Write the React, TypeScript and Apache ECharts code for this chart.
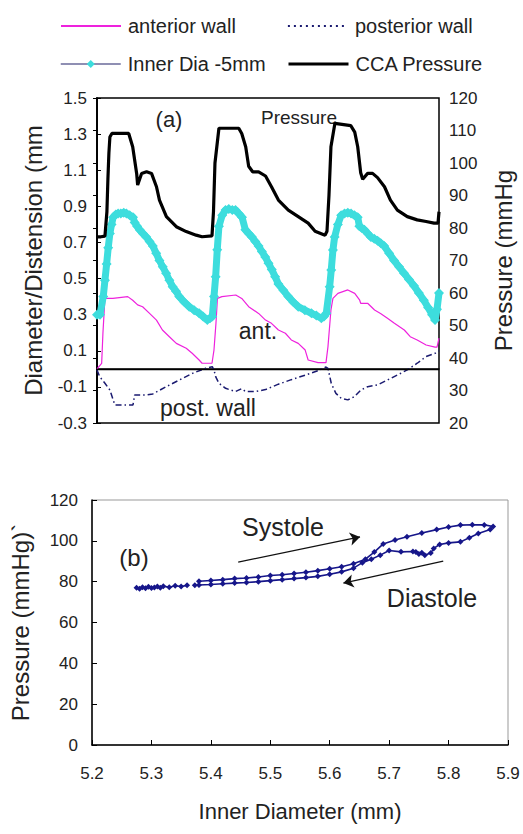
import React, { useEffect, useRef } from "react";
import * as echarts from "echarts";

// ---------- panel (a): time course ----------
// time in sample units across the record
const antWall: [number, number][] = [
  [0, 0.0], [4.7, 0.03], [6, 0.2], [8, 0.39], [16, 0.39], [31, 0.4], [36, 0.38], [41, 0.354], [46, 0.344],
  [53, 0.307], [60, 0.27], [66, 0.215], [73, 0.178], [80, 0.141], [90, 0.114], [96, 0.086], [103, 0.049],
  [106, 0.031], [116, 0.031], [118, 0.104], [120, 0.252], [121.5, 0.39], [126, 0.4], [140, 0.409], [146, 0.39],
  [153, 0.344], [163, 0.307], [170, 0.27], [176, 0.252], [183, 0.215], [190, 0.197], [196, 0.16], [203, 0.141],
  [210, 0.104], [213, 0.049], [223, 0.034], [231, 0.034], [233, 0.123], [236, 0.326], [238, 0.39], [243, 0.418],
  [253, 0.437], [260, 0.418], [265, 0.38], [266, 0.363], [273, 0.363], [280, 0.326], [286, 0.307], [293, 0.28],
  [300, 0.252], [310, 0.215], [316, 0.178], [323, 0.16], [332, 0.132], [341, 0.12], [343, 0.12], [345, 0.17],
];

const postWall: [number, number][] = [
  [0, -0.006], [2.7, -0.043], [8, -0.08], [13, -0.117], [16.3, -0.172], [18, -0.2], [26.3, -0.2], [36.3, -0.2],
  [38, -0.145], [49.7, -0.145], [56.3, -0.139], [69.7, -0.099], [83, -0.062], [96.3, -0.025], [109.7, 0.003],
  [116.3, 0.012], [118, -0.006], [119.7, -0.043], [123, -0.08], [129.7, -0.108], [139.7, -0.126], [146, -0.11],
  [150, -0.126], [160, -0.126], [170, -0.115], [183, -0.085], [196, -0.06], [210, -0.035], [223, -0.01],
  [231, 0.01], [233, 0.003], [236.3, -0.08], [241, -0.136], [246.3, -0.163], [253, -0.172], [259.7, -0.154],
  [266.3, -0.117], [273, -0.099], [283, -0.089], [293, -0.062], [303, -0.034], [313, -0.006], [323, 0.031],
  [332, 0.068], [341, 0.086], [345, 0.1],
];

const innerDia: [number, number][] = [
  [0, 0.3], [3, 0.3], [6.3, 0.4], [8, 0.49], [9.7, 0.58], [11.3, 0.67], [13, 0.75], [14.7, 0.8], [16.3, 0.84],
  [19, 0.855], [21.3, 0.86], [24, 0.86], [27, 0.865], [29.7, 0.86], [33, 0.85], [36.3, 0.84], [38, 0.81],
  [40.5, 0.79], [43, 0.77], [46.3, 0.75], [49.7, 0.73], [53, 0.705], [56.3, 0.68], [59.7, 0.64], [63, 0.6],
  [66.3, 0.565], [69.7, 0.53], [73, 0.49], [76.3, 0.455], [79.7, 0.43], [83, 0.4], [88, 0.37], [93, 0.344],
  [98, 0.325], [103, 0.308], [107, 0.29], [111.3, 0.27], [114, 0.28], [116.3, 0.29], [118, 0.4],
  [119.7, 0.51], [121.3, 0.66], [123, 0.79], [126.3, 0.85], [129.7, 0.88], [133, 0.885], [136.5, 0.88],
  [139.7, 0.88], [143, 0.86], [146.3, 0.84], [149.7, 0.77], [153, 0.75], [156.3, 0.73], [159.7, 0.705],
  [163, 0.68], [166.3, 0.65], [169.7, 0.62], [173, 0.585], [176.3, 0.55], [179.7, 0.51], [183, 0.47],
  [188, 0.435], [193, 0.4], [198, 0.37], [203, 0.344], [209.7, 0.325], [216.3, 0.308], [221.3, 0.295],
  [226.3, 0.28], [229, 0.29], [231.3, 0.308], [234.7, 0.455], [236.3, 0.547], [238, 0.658], [239.7, 0.73],
  [243, 0.8], [246.3, 0.85], [249.7, 0.86], [253, 0.865], [256.3, 0.86], [259.7, 0.85], [263, 0.84],
  [264.7, 0.79], [267, 0.78], [269.7, 0.77], [273, 0.75], [276.3, 0.73], [279.7, 0.72], [283, 0.71],
  [286.3, 0.695], [289.7, 0.68], [294.7, 0.64], [299.7, 0.6], [304.7, 0.565], [309.7, 0.53], [314.7, 0.495],
  [319.7, 0.46], [324.7, 0.42], [329.7, 0.38], [334, 0.34], [338, 0.3], [341, 0.27], [343, 0.33], [345, 0.42],
];

const ccaPressure: [number, number][] = [
  [0, 77.3], [4, 77.3], [8, 77.5], [10, 85], [11, 95], [12, 103], [13, 108], [15, 109.1], [32, 109.1],
  [36, 105], [40, 96.8], [41, 93.2], [45, 96.8], [50, 97.3], [55, 96.8], [60, 92.7], [63, 88.6], [70, 83.5],
  [80, 80.4], [90, 78.9], [100, 77.8], [106, 77.3], [116, 77.6], [117.5, 85], [119, 100], [123, 110.7],
  [130, 110.7], [143, 110.7], [146, 109.1], [150, 105], [153, 99], [157, 97.3], [163, 97.3], [170, 96],
  [176, 92.7], [183, 88.6], [193, 85.5], [203, 83.5], [213, 81.5], [220, 79], [230, 77.8], [232, 79],
  [234, 90], [236, 105], [240, 112.2], [256, 111.5], [260, 109.5], [263, 105], [266, 97], [268, 95],
  [273, 96.8], [278, 96.8], [283, 95.5], [290, 92.7], [296, 88.6], [303, 85.5], [313, 83.5], [323, 82.5],
  [332, 82], [340, 81.5], [344, 81.5], [345, 85],
];

const diaTicks = [-0.3, -0.1, 0.1, 0.3, 0.5, 0.7, 0.9, 1.1, 1.3, 1.5];
const pressTicksA = [20, 30, 40, 50, 60, 70, 80, 90, 100, 110, 120];

// ---------- panel (b): pressure–diameter loop ----------
const loopD: (number | null)[] = [
  5.275, 5.28, 5.285, 5.29, 5.295, 5.3, 5.305, 5.31, 5.315, 5.32, 5.33, 5.34, 5.35, 5.36, null, 5.373, null,
  5.38, 5.4, 5.42, 5.44, 5.46, 5.48, 5.5, 5.52, 5.54, 5.56, 5.58, 5.6, 5.62, 5.64, 5.66, 5.675, 5.69, 5.71,
  5.73, 5.755, 5.78, 5.8, 5.82, 5.84, 5.86, 5.875, 5.87, 5.85, 5.835, 5.82, 5.8, 5.785, 5.775, 5.77, 5.76,
  5.755, 5.75, 5.745, 5.74, 5.72, 5.7, 5.685, 5.67, 5.655, 5.64, 5.62, 5.6, 5.58, 5.56, 5.54, 5.52, 5.5,
  5.48, 5.46, 5.44, 5.42, 5.4, 5.38,
];
const loopP: (number | null)[] = [
  77.0, 76.5, 77.3, 76.8, 77.5, 76.9, 77.2, 77.6, 77.0, 77.8, 77.3, 78.0, 77.6, 78.2, null, 78.3, null,
  80.2, 80.6, 81.0, 81.5, 81.8, 82.3, 83.0, 83.4, 84.0, 84.6, 85.4, 86.3, 87.3, 88.8, 91.0, 94.5, 98.5, 100.4,
  102.0, 103.8, 105.5, 106.8, 107.7, 107.9, 107.8, 107.0, 105.5, 103.6, 101.5, 99.5, 99.0, 98.2, 96.3, 94.0,
  93.0, 94.2, 93.5, 94.5, 94.8, 94.6, 95.3, 93.0, 91.0, 89.3, 86.6, 84.8, 83.6, 82.6, 82.0, 81.5, 81.0, 80.5,
  80.0, 79.6, 79.3, 79.0, 78.6, 78.4,
];
const diamTicksB = [5.2, 5.3, 5.4, 5.5, 5.6, 5.7, 5.8, 5.9];
const pressTicksB = [0, 20, 40, 60, 80, 100, 120];

// annotation arrows [fromD, fromP, toD, toP]
const systoleArrow = [5.446, 89.6, 5.651, 101.9];
const diastoleArrow = [5.791, 90.1, 5.623, 79.3];

const FONT = "'Liberation Sans', Arial, sans-serif";
const TXT = "#222";

export default function App() {
  const ref = useRef<HTMLDivElement>(null);
  useEffect(() => {
    if (!ref.current) return;
    const chart = echarts.init(ref.current, undefined, { renderer: "svg" });
    const loopData = loopD.map((d, i) => (d === null || loopP[i] === null ? [null, null] : [d, loopP[i]]));
    const lbl = (size: number) => ({ color: TXT, fontFamily: FONT, fontSize: size });
    const legendBase = (name: string, left: number, top: number, marker: boolean, lineStyle: any) => ({
      data: [name],
      left,
      top,
      padding: 0,
      itemWidth: 60,
      itemHeight: 10,
      itemGap: 0,
      textStyle: { ...lbl(20), padding: [0, 0, 0, 2] },
      selectedMode: false,
      lineStyle,
      ...(marker ? {} : { itemStyle: { opacity: 0 } }),
    });

    chart.setOption({
      animation: false,
      backgroundColor: "#fff",
      legend: [
        legendBase("anterior wall", 60, 16, false, { width: 2 }),
        legendBase("posterior wall", 287, 16, false, { width: 1.8, type: [2, 4] }),
        legendBase("Inner Dia -5mm", 60, 54, true, { width: 1.5 }),
        legendBase("CCA Pressure", 287, 54, false, { width: 3 }),
      ],
      grid: [
        { left: 97, top: 98, width: 345, height: 325, show: true, borderColor: "#000", borderWidth: 1.5, backgroundColor: "transparent" },
        { left: 92, top: 500, width: 416, height: 245, show: true, borderColor: "#999", borderWidth: 1, backgroundColor: "transparent" },
      ],
      xAxis: [
        {
          gridIndex: 0, type: "value", min: 0, max: 345,
          axisLine: { show: true, lineStyle: { color: "#000", width: 1.5 } },
          axisTick: { show: false }, axisLabel: { show: false }, splitLine: { show: false },
        },
        {
          gridIndex: 1, type: "value", min: 5.2, max: 5.9,
          name: "Inner Diameter (mm)", nameLocation: "middle", nameGap: 55,
          nameTextStyle: lbl(22),
          axisLine: { show: true, onZero: false, lineStyle: { color: "#000", width: 1.5 } },
          axisTick: { show: true, inside: true, length: 5, customValues: diamTicksB, lineStyle: { color: "#000" } },
          axisLabel: { ...lbl(17), margin: 20, customValues: diamTicksB, formatter: (v: number) => v.toFixed(1) },
          splitLine: { show: false },
        },
      ],
      yAxis: [
        {
          gridIndex: 0, type: "value", min: -0.3, max: 1.5, position: "left",
          name: "Diameter/Distension (mm", nameLocation: "middle", nameGap: 52,
          nameTextStyle: lbl(24),
          axisLine: { show: true, onZero: false, lineStyle: { color: "#000", width: 1.5 } },
          axisTick: { show: true, inside: true, length: 4, customValues: diaTicks, lineStyle: { color: "#000" } },
          axisLabel: { ...lbl(17), margin: 10, customValues: diaTicks, formatter: (v: number) => v.toFixed(1) },
          splitLine: { show: false },
        },
        {
          gridIndex: 0, type: "value", min: 20, max: 120, position: "right",
          name: "Pressure (mmHg", nameLocation: "middle", nameGap: 52, nameRotate: 90,
          nameTextStyle: lbl(24),
          axisLine: { show: true, lineStyle: { color: "#000", width: 1.5 } },
          axisTick: { show: true, inside: true, length: 4, customValues: pressTicksA, lineStyle: { color: "#000" } },
          axisLabel: { ...lbl(17), margin: 10, customValues: pressTicksA },
          splitLine: { show: false },
        },
        {
          gridIndex: 1, type: "value", min: 0, max: 120,
          name: "Pressure (mmHg)`", nameLocation: "middle", nameGap: 60,
          nameTextStyle: lbl(24),
          axisLine: { show: true, onZero: false, lineStyle: { color: "#000", width: 1.5 } },
          axisTick: { show: true, inside: true, length: 5, customValues: pressTicksB, lineStyle: { color: "#000" } },
          axisLabel: { ...lbl(17), margin: 14, customValues: pressTicksB },
          splitLine: { show: false },
        },
      ],
      series: [
        {
          name: "anterior wall", type: "line", xAxisIndex: 0, yAxisIndex: 0, data: antWall,
          symbol: "none", lineStyle: { color: "#ee22dd", width: 1.2 }, itemStyle: { color: "#ee22dd" }, z: 3,
          markLine: {
            silent: true, symbol: "none", label: { show: false },
            lineStyle: { color: "#000", width: 1.3, type: "solid" },
            data: [{ yAxis: 0 }],
          },
        },
        {
          name: "posterior wall", type: "line", xAxisIndex: 0, yAxisIndex: 0, data: postWall,
          symbol: "none", lineStyle: { color: "#1a1a70", width: 1.5, type: [6, 3, 1.5, 3] }, itemStyle: { color: "#1a1a70" }, z: 3,
        },
        {
          name: "Inner Dia -5mm", type: "line", xAxisIndex: 0, yAxisIndex: 0, data: innerDia,
          symbol: "diamond", symbolSize: 10, showAllSymbol: true,
          lineStyle: { color: "#6a6a9a", width: 1.2 }, itemStyle: { color: "#3ddddd" }, z: 4,
        },
        {
          name: "Inner Dia band", type: "line", xAxisIndex: 0, yAxisIndex: 0, data: innerDia,
          symbol: "none", silent: true, lineStyle: { color: "#3ddddd", width: 7 }, z: 5,
        },
        {
          name: "CCA Pressure", type: "line", xAxisIndex: 0, yAxisIndex: 1, data: ccaPressure,
          symbol: "none", lineStyle: { color: "#000", width: 3.2 }, itemStyle: { color: "#000" }, z: 6,
        },
        {
          name: "P-D loop", type: "line", xAxisIndex: 1, yAxisIndex: 2, data: loopData,
          symbol: "diamond", symbolSize: 6, showAllSymbol: true,
          lineStyle: { color: "#16168a", width: 1.6 }, itemStyle: { color: "#16168a" },
          markLine: {
            silent: true, symbol: ["none", "arrow"], symbolSize: 10, label: { show: false },
            lineStyle: { color: "#111", width: 1.3, type: "solid" },
            data: [
              [{ coord: [systoleArrow[0], systoleArrow[1]] }, { coord: [systoleArrow[2], systoleArrow[3]] }],
              [{ coord: [diastoleArrow[0], diastoleArrow[1]] }, { coord: [diastoleArrow[2], diastoleArrow[3]] }],
            ],
          },
        },
      ],
      graphic: [
        { type: "text", x: 169, y: 119, style: { text: "(a)", font: `22px ${FONT}`, fill: TXT, align: "center", verticalAlign: "middle" } },
        { type: "text", x: 299, y: 117, style: { text: "Pressure", font: `19px ${FONT}`, fill: TXT, align: "center", verticalAlign: "middle" } },
        { type: "text", x: 258, y: 331, style: { text: "ant.", font: `23px ${FONT}`, fill: TXT, align: "center", verticalAlign: "middle" } },
        { type: "text", x: 208, y: 408, style: { text: "post. wall", font: `23px ${FONT}`, fill: TXT, align: "center", verticalAlign: "middle" } },
        { type: "text", x: 134, y: 557, style: { text: "(b)", font: `24px ${FONT}`, fill: TXT, align: "center", verticalAlign: "middle" } },
        { type: "text", x: 283, y: 527, style: { text: "Systole", font: `25px ${FONT}`, fill: TXT, align: "center", verticalAlign: "middle" } },
        { type: "text", x: 432, y: 598, style: { text: "Diastole", font: `25px ${FONT}`, fill: TXT, align: "center", verticalAlign: "middle" } },
      ],
    });
    return () => chart.dispose();
  }, []);
  return <div ref={ref} style={{ position: "absolute", left: 0, top: 0, width: 523, height: 834 }} />;
}
